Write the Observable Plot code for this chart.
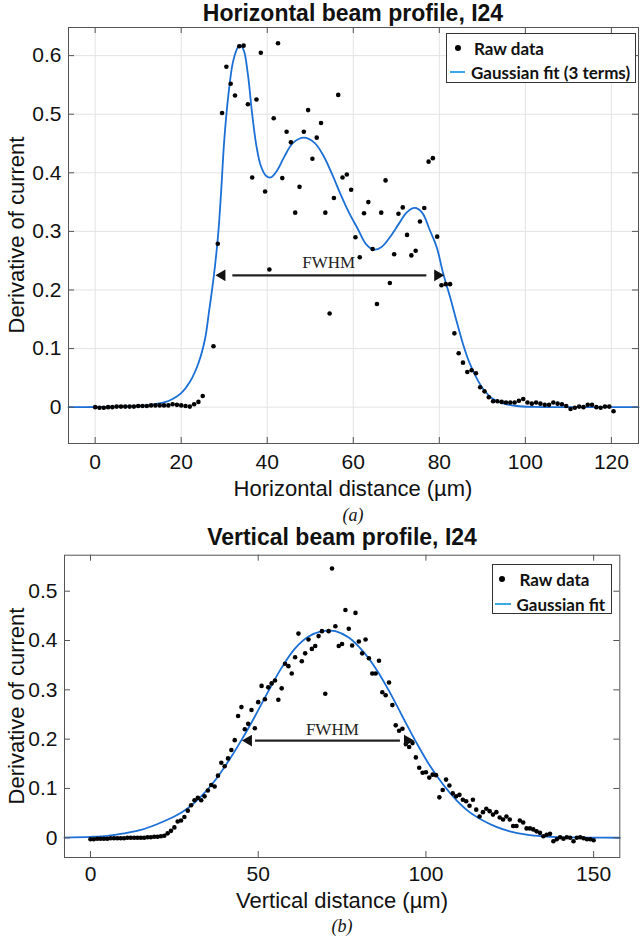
<!DOCTYPE html>
<html>
<head>
<meta charset="utf-8">
<script src="https://cdn.jsdelivr.net/npm/d3@7"></script>
<script src="https://cdn.jsdelivr.net/npm/@observablehq/plot@0.6"></script>
<style>
  html, body { margin: 0; padding: 0; background: #fff; }
  #root { position: relative; width: 640px; height: 940px; background: #fff; overflow: hidden;
          font-family: "Liberation Sans", Arial, sans-serif; color: #111; }
  .abs { position: absolute; white-space: nowrap; transform: translate(-50%, -50%); line-height: 1; }
  .title { font-weight: bold; font-size: 23px; }
  .xlab { font-size: 22px; }
  .ylab { font-size: 22px; transform: translate(-50%, -50%) rotate(-90deg); }
  .cap { font-family: "Liberation Serif", "Times New Roman", serif; font-style: italic; font-size: 18px; }
  .legend { position: absolute; border: 1px solid #333; background: #fff; box-sizing: border-box;
            font-family: Lato, "Open Sans", sans-serif; font-weight: bold; font-size: 17px; color: #111; }
  .legend .t { position: absolute; transform: translateY(-50%); white-space: nowrap; line-height: 1; }
  .legend .d { position: absolute; width: 6px; height: 6px; border-radius: 50%; background: #000; transform: translate(-50%, -50%); }
  .legend .l { position: absolute; height: 2px; background: #3aa8e6; transform: translateY(-50%); }
  .plot { position: absolute; left: 0; }
</style>
</head>
<body>
<div id="root"></div>
<script>
// ---------- Data: horizontal profile ----------
const hX = [0,1,2,3,4,5,6,7,8,9,10,11,12,13,14,15,16,17,18,19,20,21,22,23,24,25,
  27.5,28.5,29.5,30.5,31.5,32.5,33.5,34.5,35.5,36.5,37.5,38.5,39.5,40.5,41.5,42.5,43.5,44.5,45.5,46.5,
  47.5,48.5,49.5,50.5,51.5,52.5,53.5,54.5,55.5,56.5,57.5,58.5,59.5,60.5,61.5,62.5,63.5,64.5,65.5,66.5,
  67.5,68.5,69.5,70.5,71.5,72.5,73.5,74.5,75.5,76.5,77.5,78.5,79.5,80.5,81.5,82.5,83.5,84.5,85.5,86.5,
  87.5,88.5,89.5,90.5,91.5,92.5,93.5,94.5,95.5,96.5,97.5,98.5,99.5,100.5,101.5,102.5,103.5,104.5,105.5,106.5,
  107.5,108.5,109.5,110.5,111.5,112.5,113.5,114.5,115.5,116.5,117.5,118.5,119.5,120.5];
const hY = [0.000,-0.001,-0.001,0.000,0.000,0.001,0.001,0.001,0.001,0.001,0.002,0.002,0.002,0.003,0.003,0.003,0.003,0.003,0.005,0.004,0.003,0.002,0.001,0.005,0.009,0.019,
  0.104,0.279,0.502,0.581,0.552,0.532,0.616,0.617,0.517,0.392,0.525,0.605,0.368,0.235,0.493,0.621,0.391,0.470,0.452,0.332,
  0.376,0.470,0.507,0.424,0.460,0.485,0.332,0.160,0.357,0.533,0.392,0.397,0.371,0.290,0.256,0.331,0.350,0.270,0.176,0.332,
  0.387,0.212,0.261,0.330,0.341,0.294,0.259,0.267,0.317,0.340,0.419,0.425,0.291,0.208,0.210,0.210,0.126,0.092,0.076,0.060,
  0.063,0.058,0.034,0.027,0.017,0.010,0.010,0.009,0.008,0.008,0.008,0.011,0.014,0.008,0.006,0.008,0.006,0.004,0.004,0.008,
  0.006,0.005,0.002,-0.003,-0.001,0.001,0.000,0.004,0.004,0.000,-0.001,0.001,0.001,-0.007];
// Fitted curve (3-term Gaussian)
const hFitX = [-6.2,0,6,10,13,16,18,20,22,24,25.5,26.5,27.6,28.6,29.3,30,31,32,33,33.6,34.5,35.5,36.5,37.5,38.5,39.7,40.8,42.3,44,46,48.5,51,53,55,57,59,61,63,64.8,66.5,68.5,70.5,72.5,74.3,76,77.8,79.4,80.9,82.5,84,85.5,87,88.5,90.2,92.5,95,98,102,110,126.3];
const hFitY = [0,0.0003,0.001,0.002,0.004,0.008,0.014,0.024,0.043,0.075,0.115,0.165,0.225,0.296,0.37,0.455,0.535,0.588,0.612,0.618,0.61,0.568,0.5,0.445,0.412,0.395,0.392,0.404,0.428,0.451,0.46,0.451,0.43,0.399,0.364,0.332,0.305,0.278,0.269,0.273,0.29,0.312,0.333,0.34,0.332,0.302,0.273,0.228,0.188,0.147,0.108,0.076,0.052,0.031,0.014,0.006,0.002,0.0005,0,0];
const hFwhmX = [28.0, 81.1];
const hFwhmY = 0.225;
const hFwhmLabel = {x: 54.3, y: 0.247, text: "FWHM"};
const hTicksX = [0,20,40,60,80,100,120];
const hTicksY = [0,0.1,0.2,0.3,0.4,0.5,0.6];

// ---------- Data: vertical profile ----------
const vX = [0,1,2,3,4,5,6,7,8,9,10,11,12,13,14,15,16,17,18,19,20,21,22,23,24,25,26,27,28,29,30,31,32,33,34,35,36,37,38,39,40,
  41,42,43,44,45,46,47,48,49,50,51,52,53,54,55,56,57,58,59,60,61,62,63,64,65,66,67,68,69,70,71,72,73,74,75,76,77,78,79,80,
  81,82,83,84,85,86,87,88,89,90,91,92,93,94,95,96,97,98,99,100,101,102,103,104,105,106,107,108,109,110,111,112,113,114,115,116,117,118,119,120,
  121,122,123,124,125,126,127,128,129,130,131,132,133,134,135,136,137,138,139,140,141,142,143,144,145,146,147,148,149,150];
const vY = [-0.003,-0.003,-0.002,-0.002,-0.002,-0.002,-0.001,-0.001,-0.001,-0.001,-0.001,0,0,0,0,0,0,0.001,0.001,0.002,0.002,
  0.003,0.004,0.009,0.014,0.021,0.033,0.035,0.042,0.055,0.066,0.076,0.081,0.076,0.084,0.096,0.107,0.104,0.126,0.152,0.145,
  0.161,0.178,0.198,0.247,0.265,0.220,0.231,0.259,0.222,0.275,0.308,0.281,0.305,0.313,0.319,0.280,0.303,0.353,0.348,0.333,
  0.366,0.414,0.358,0.374,0.402,0.383,0.389,0.409,0.419,0.292,0.419,0.546,0.429,0.389,0.393,0.462,0.424,0.390,0.456,0.398,
  0.374,0.402,0.364,0.333,0.333,0.359,0.295,0.289,0.315,0.269,0.228,0.217,0.221,0.190,0.184,0.192,0.163,0.142,0.132,0.133,
  0.122,0.128,0.127,0.082,0.097,0.118,0.106,0.090,0.084,0.087,0.077,0.074,0.065,0.077,0.057,0.043,0.052,0.059,0.054,0.047,
  0.052,0.041,0.037,0.043,0.037,0.024,0.024,0.035,0.031,0.019,0.019,0.017,0.013,0.010,0.003,0.006,0.008,-0.007,-0.003,0.001,
  -0.002,0.001,0.000,-0.007,0.000,0.001,-0.001,-0.003,-0.003,-0.005];
const vFitX = [-7.75,0,5,10,15,20,25,29,33,37,41,45,49,53,57,61,65,69,71,73,77,81,85,89,93,97,101,105,109,113,117,121,125,130,135,140,150,157.8];
const vFitY = [0.0005,0.002,0.004,0.009,0.016,0.028,0.043,0.060,0.084,0.115,0.154,0.198,0.246,0.297,0.345,0.384,0.408,0.419,0.42,0.419,0.406,0.38,0.344,0.298,0.246,0.195,0.148,0.109,0.077,0.052,0.035,0.022,0.013,0.0065,0.003,0.0013,0.0003,0];
const vFwhmX = [45.2, 96.4];
const vFwhmY = 0.197;
const vFwhmLabel = {x: 72.1, y: 0.219, text: "FWHM"};
const vTicksX = [0,50,100,150];
const vTicksY = [0,0.1,0.2,0.3,0.4,0.5];

// ---------- Styles ----------
const BLUE = "#1b6fd6";
const FRAME = "#555";
const root = document.getElementById("root");

function profile({rawX, rawY, fitX, fitY, fwhmX, fwhmY, fwhmLabel, ticksX, ticksY, grid,
                  width, height, mt, mb, ml, mr, xDomain, yDomain, xPad, yPad}) {
  const raw = rawX.map((x, i) => ({x, y: rawY[i]}));
  const fit = fitX.map((x, i) => ({x, y: fitY[i]}));
  const innerW = width - ml - mr, innerH = height - mt - mb;
  const tk = 6;
  const headOff = 6.5;
  const marks = [];
  if (grid) {
    marks.push(Plot.gridX(ticksX, {stroke: "#e3e3e3", strokeOpacity: 1}));
    marks.push(Plot.gridY(ticksY, {stroke: "#e3e3e3", strokeOpacity: 1}));
  }
  marks.push(
    Plot.line(fit, {x: "x", y: "y", stroke: BLUE, strokeWidth: 1.8, curve: "catmull-rom"}),
    Plot.dot(raw, {x: "x", y: "y", r: 2.3, fill: "#000", stroke: "none"}),
    Plot.ruleY([fwhmY], {x1: fwhmX[0] + 4, x2: fwhmX[1] - 4, y: d => d, stroke: "#222", strokeWidth: 2.2}),
    Plot.dot([{x: fwhmX[0], y: fwhmY}], {x: "x", y: "y", symbol: "triangle", r: 4.3, rotate: -90, fill: "#111", dx: headOff}),
    Plot.dot([{x: fwhmX[1], y: fwhmY}], {x: "x", y: "y", symbol: "triangle", r: 4.3, rotate: 90, fill: "#111", dx: -headOff}),
    Plot.text([fwhmLabel], {x: "x", y: "y", text: "text", fontFamily: "Liberation Serif, Times New Roman, serif", fontSize: 17, fill: "#222"}),
    Plot.frame({stroke: FRAME, strokeWidth: 1}),
    Plot.ruleX(ticksX, {x: d => d, stroke: FRAME, insetTop: innerH - tk}),
    Plot.ruleX(ticksX, {x: d => d, stroke: FRAME, insetBottom: innerH - tk}),
    Plot.ruleY(ticksY, {y: d => d, stroke: FRAME, insetRight: innerW - tk}),
    Plot.ruleY(ticksY, {y: d => d, stroke: FRAME, insetLeft: innerW - tk}),
    Plot.axisX(ticksX, {tickSize: 0, tickPadding: xPad, fontSize: 21, label: null, fill: "#111"}),
    Plot.axisY(ticksY, {tickSize: 0, tickPadding: yPad, fontSize: 21, label: null, fill: "#111", tickFormat: d3.format("~g")})
  );
  return Plot.plot({
    width, height, marginTop: mt, marginBottom: mb, marginLeft: ml, marginRight: mr,
    x: {domain: xDomain}, y: {domain: yDomain},
    style: {fontFamily: "Liberation Sans, Arial, sans-serif", background: "transparent", color: "#111", overflow: "visible"},
    marks
  });
}

function place(el, top) {
  const w = document.createElement("div");
  w.className = "plot";
  w.style.top = top + "px";
  w.appendChild(el);
  root.appendChild(w);
}
function label(text, cls, left, top) {
  const d = document.createElement("div");
  d.className = "abs " + cls;
  d.style.left = left + "px";
  d.style.top = top + "px";
  d.textContent = text;
  root.appendChild(d);
}
function legend(box, items) {
  const L = document.createElement("div");
  L.className = "legend";
  Object.assign(L.style, {left: box.left + "px", top: box.top + "px", width: box.w + "px", height: box.h + "px"});
  items.forEach(it => {
    if (it.kind === "dot") {
      const d = document.createElement("div"); d.className = "d";
      d.style.left = it.mx + "px"; d.style.top = it.y + "px"; L.appendChild(d);
    } else {
      const l = document.createElement("div"); l.className = "l";
      l.style.left = it.mx + "px"; l.style.width = it.mw + "px"; l.style.top = it.y + "px"; L.appendChild(l);
    }
    const t = document.createElement("div"); t.className = "t";
    t.style.left = it.tx + "px"; t.style.top = it.y + "px"; t.textContent = it.text; L.appendChild(t);
  });
  root.appendChild(L);
}

// ---------- Top chart ----------
place(profile({
  rawX: hX, rawY: hY, fitX: hFitX, fitY: hFitY, fwhmX: hFwhmX, fwhmY: hFwhmY, fwhmLabel: hFwhmLabel,
  ticksX: hTicksX, ticksY: hTicksY, grid: true,
  width: 640, height: 505, mt: 27, mb: 62, ml: 68, mr: 2,
  xDomain: [-6.2, 126.3], yDomain: [-0.062, 0.648], xPad: 11, yPad: 7
}), 0);
label("Horizontal beam profile, I24", "title", 353, 13);
label("Horizontal distance (µm)", "xlab", 353, 489);
label("Derivative of current", "ylab", 17, 235);
label("(a)", "cap", 353, 515);
legend({left: 446, top: 33, w: 190, h: 50}, [
  {kind: "dot", mx: 10.7, y: 14.3, tx: 27, text: "Raw data"},
  {kind: "line", mx: 3, mw: 15, y: 37.7, tx: 24, text: "Gaussian fit (3 terms)"}
]);

// ---------- Bottom chart ----------
place(profile({
  rawX: vX, rawY: vY, fitX: vFitX, fitY: vFitY, fwhmX: vFwhmX, fwhmY: vFwhmY, fwhmLabel: vFwhmLabel,
  ticksX: vTicksX, ticksY: vTicksY, grid: false,
  width: 640, height: 415, mt: 29.7, mb: 83, ml: 64, mr: 20.7,
  xDomain: [-7.75, 157.8], yDomain: [-0.04, 0.573], xPad: 9, yPad: 7
}), 525);
label("Vertical beam profile, I24", "title", 342, 537);
label("Vertical distance (µm)", "xlab", 342, 901);
label("Derivative of current", "ylab", 17, 706);
label("(b)", "cap", 342, 926);
legend({left: 492, top: 564, w: 120, h: 50}, [
  {kind: "dot", mx: 9, y: 14.3, tx: 26.5, text: "Raw data"},
  {kind: "line", mx: 2.3, mw: 15.7, y: 38.7, tx: 23.5, text: "Gaussian fit"}
]);
</script>
</body>
</html>
